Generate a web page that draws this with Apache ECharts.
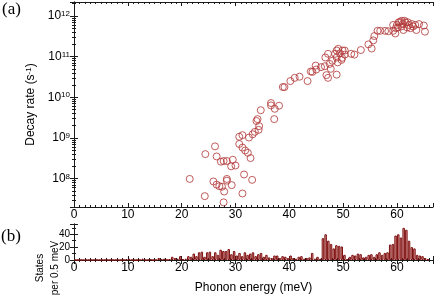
<!DOCTYPE html>
<html>
<head>
<meta charset="utf-8">
<script src="https://cdn.jsdelivr.net/npm/echarts@6/dist/echarts.min.js"></script>
<style>html,body{margin:0;padding:0;background:#fff}#c{width:436px;height:295px}</style>
</head>
<body>
<div id="c"></div>
<script>
// Panel (a): decay rate vs phonon energy
var energy = [21.5,24.3,24.4,26.2,26.5,25.9,26.5,27.0,27.5,27.9,27.8,28.4,28.4,29.3,27.3,27.8,28.4,29.5,29.2,30.0,
  31.3,31.6,33.1,30.7,30.7,31.3,31.3,31.8,32.3,32.8,32.5,33.2,33.6,34.3,34.4,33.9,34.1,34.7,36.6,36.6,
  37.3,38.1,37.2,38.8,39.1,40.2,41.0,41.9,43.4,44.0,44.3,44.9,45.0,45.9,46.9,47.2,46.7,47.2,46.6,47.7,
  47.5,48.5,48.8,49.1,49.4,49.9,50.3,49.8,50.3,48.8,48.0,49.0,49.7,51.5,52.1,48.8,53.3,54.7,55.3,55.6,
  55.8,56.4,56.9,57.8,58.4,59.3,59.7,59.3,60.3,60.6,61.1,61.6,62.2,62.8,63.4,64.1,65.0,65.2,63.6,61.2,
  60.2,61.9,60.0,60.8,62.5,61.4,60.9,63.0,59.8,62.0];
var decayRate = [9.8e7,3.7e7,4.0e8,6.2e8,3.5e8,8.5e7,7.1e7,6.5e7,6.3e7,4.8e7,2.6e7,9.8e7,8.9e7,6.9e7,2.6e8,2.7e8,2.7e8,2.9e8,2.0e8,2.1e8,
  4.3e7,1.26e8,9.3e7,7.1e8,1.07e9,1.17e9,5.8e8,4.9e8,4.3e8,3.2e8,1.02e9,1.23e9,1.41e9,1.58e9,1.95e9,2.6e9,2.9e9,4.8e9,7.2e9,6.3e9,
  5.2e9,6.2e9,2.9e9,1.78e10,1.78e10,2.5e10,3.0e10,3.2e10,2.5e10,4.3e10,4.2e10,6.0e10,4.8e10,5.5e10,3.5e10,3.0e10,9.5e10,1.17e11,5.8e10,5.0e10,
  6.6e10,1.17e11,1.41e11,1.55e11,1.2e11,1.41e11,1.41e11,9.3e10,1.12e11,9.5e10,7.9e10,7.2e10,8.3e10,1.17e11,1.12e11,3.6e10,1.45e11,2.0e11,1.58e11,2.5e11,
  3.2e11,4.3e11,4.3e11,4.3e11,4.2e11,4.3e11,3.7e11,6.0e11,6.9e11,7.2e11,6.3e11,6.9e11,6.0e11,6.3e11,6.0e11,6.3e11,5.8e11,4.1e11,4.5e11,4.5e11,
  5.2e11,5.2e11,6.0e11,5.5e11,5.0e11,7.6e11,7.6e11,5.5e11,5.0e11,7.0e11];

// Panel (b): phonon density of states, 0.5 meV bins starting at 0 meV
var binWidth = 0.5;
var states = [0,0,0,0,0,0,0,0,0,0,0,0,0,0,0,0,0,0,0,
  1,2,0,0,0,0,2,0,0,1,0,0,3,1,2,0,1,5,3,2,6,
  1,2,6,5,10,6,12,13,5,12,13,6,12,8,16,14,14,17,9,14,
  7,11,6,12,8,10,12,6,9,11,5,8,4,3,7,7,3,6,5,3,
  7,3,2,5,6,2,3,4,11,2,5,2,34,40,30,25,18,23,22,21,
  8,1,5,8,7,10,9,4,5,8,9,5,9,12,8,11,12,24,25,38,
  40,35,50,47,30,20,18,8,7,6,3,1];
var xTicks = [0,10,20,30,40,50,60];

var SANS = 'Liberation Sans';
var ax = '#1a1a1a';
var scatterData = energy.map(function(e,i){return [e, decayRate[i]];});
var barData = states.map(function(v,i){return [i*binWidth + binWidth/2, v];});

function xAx(grid, pos, labels) {
  return {type:'value', gridIndex:grid, position:pos, min:0, max:66.7, interval:10,
    axisLine:{show:true, lineStyle:{color:ax, width:1}},
    axisTick:{show:true, inside:true, length:4, lineStyle:{color:ax}},
    minorTick:{show:true, splitNumber:10, length:2, lineStyle:{color:ax}},
    splitLine:{show:false},
    axisLabel:{show:labels, margin:2, fontFamily:SANS, fontSize:12, color:'#000', showMaxLabel:false}};
}

var chart = echarts.init(document.getElementById('c'), null, {renderer:'canvas'});
chart.setOption({
  animation:false,
  backgroundColor:'#fff',
  grid:[
    {left:74, right:3, top:2, height:205},
    {left:74, right:3, top:224, height:41}
  ],
  xAxis:[
    xAx(0,'bottom',true),
    xAx(0,'top',false),
    Object.assign(xAx(1,'bottom',true), {name:'Phonon energy (meV)', nameLocation:'middle', nameGap:22,
      nameTextStyle:{fontFamily:SANS, fontSize:12, color:'#000'}}),
    xAx(1,'top',false)
  ],
  yAxis:[
    {type:'log', logBase:10, gridIndex:0, position:'left', min:2e7, max:2.2e12,
      axisLine:{show:true, lineStyle:{color:ax}},
      axisTick:{show:true, inside:true, length:4, lineStyle:{color:ax}},
      minorTick:{show:true, splitNumber:9, length:2, lineStyle:{color:ax}},
      splitLine:{show:false},
      axisLabel:{margin:4, showMinLabel:false, showMaxLabel:false,
        formatter:function(v){var e=Math.round(Math.log(v)/Math.LN10); return '{b|10}{s|'+e+'}';},
        rich:{b:{fontFamily:SANS, fontSize:12, color:'#000'}, s:{fontFamily:SANS, fontSize:8, color:'#000', verticalAlign:'top'}}},
      name:'Decay rate (s{s|-1})', nameLocation:'middle', nameGap:34, nameRotate:90,
      nameTextStyle:{fontFamily:SANS, fontSize:12, color:'#000',
        rich:{s:{fontFamily:SANS, fontSize:8, color:'#000', verticalAlign:'top'}}}},
    {type:'log', logBase:10, gridIndex:0, position:'right', min:2e7, max:2.2e12,
      axisLine:{show:true, lineStyle:{color:ax}},
      axisTick:{show:true, inside:true, length:4, lineStyle:{color:ax}},
      minorTick:{show:true, splitNumber:9, length:2, lineStyle:{color:ax}},
      splitLine:{show:false}, axisLabel:{show:false}},
    {type:'value', gridIndex:1, position:'left', min:0, max:56, interval:20,
      axisLine:{show:true, lineStyle:{color:ax}},
      axisTick:{show:true, inside:true, length:4, lineStyle:{color:ax}},
      minorTick:{show:true, splitNumber:2, length:2, lineStyle:{color:ax}},
      splitLine:{show:false},
      axisLabel:{margin:4, showMaxLabel:false, fontFamily:SANS, fontSize:10, color:'#000'}},
    {type:'value', gridIndex:1, position:'right', min:0, max:56, interval:20,
      axisLine:{show:true, lineStyle:{color:ax}},
      axisTick:{show:true, inside:true, length:4, lineStyle:{color:ax}},
      minorTick:{show:true, splitNumber:2, length:2, lineStyle:{color:ax}},
      splitLine:{show:false}, axisLabel:{show:false}}
  ],
  series:[
    {type:'scatter', xAxisIndex:0, yAxisIndex:0, data:scatterData, symbol:'circle', symbolSize:7,
      itemStyle:{color:'rgba(0,0,0,0)', borderColor:'#b03535', borderWidth:1}},
    {type:'bar', xAxisIndex:2, yAxisIndex:2, data:barData, barWidth:2.5,
      itemStyle:{color:'#e4a0a0', borderColor:'#7d1010', borderWidth:1}}
  ],
  graphic:[
    {type:'text', left:2, top:1, style:{text:'(a)', font:'17px "Liberation Serif"', fill:'#000'}},
    {type:'text', left:1, top:228, style:{text:'(b)', font:'17px "Liberation Serif"', fill:'#000'}},
    {type:'text', x:48, y:268, rotation:Math.PI/2, originX:0, originY:0,
      style:{text:'States\nper 0.5 meV', font:'10px "Liberation Sans"', lineHeight:15, fill:'#000', align:'center', verticalAlign:'middle'}}
  ]
});
</script>
</body>
</html>
